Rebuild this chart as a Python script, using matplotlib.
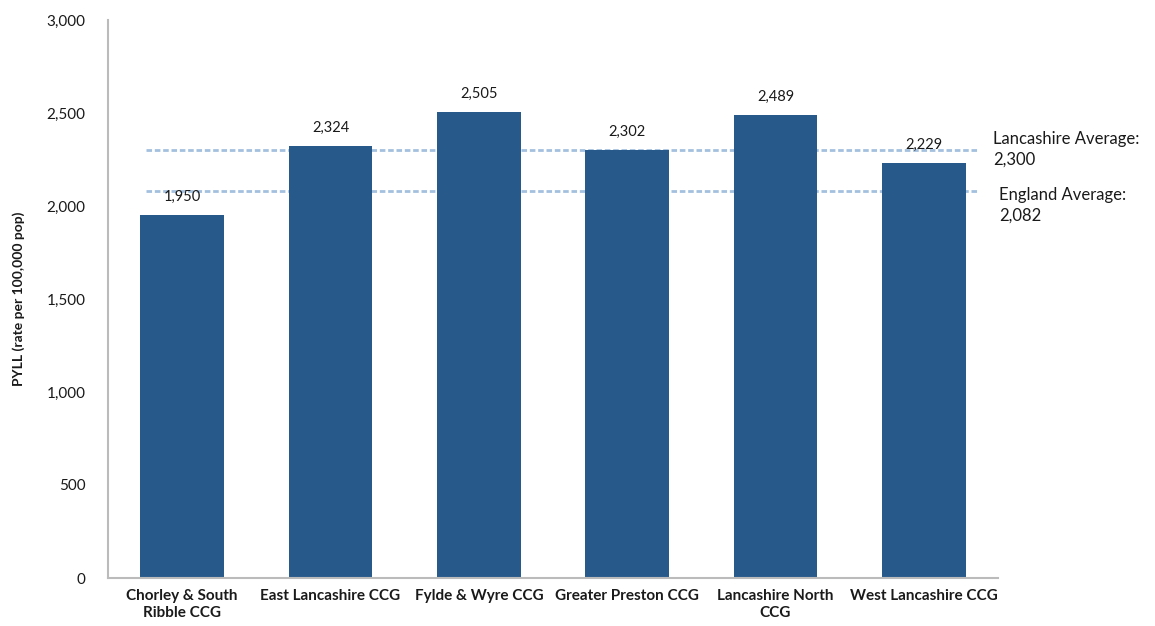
import matplotlib
matplotlib.use("Agg")
import matplotlib.pyplot as plt
from matplotlib.ticker import FuncFormatter

categories = ["Chorley & South\nRibble CCG", "East Lancashire CCG", "Fylde & Wyre CCG",
              "Greater Preston CCG", "Lancashire North\nCCG", "West Lancashire CCG"]
values = [1950, 2324, 2505, 2302, 2489, 2229]
lancashire_avg = 2300
england_avg = 2082
yticks = [0, 500, 1000, 1500, 2000, 2500, 3000]

plt.rcParams['font.family'] = ['Lato', 'DejaVu Sans']

fig = plt.figure(figsize=(11.55, 6.26), dpi=100)
ax = fig.add_axes([108/1155, 48/626, 890/1155, 558/626])

bar_color = "#275A8B"
x = list(range(len(categories)))
ax.bar(x, values, width=0.565, color=bar_color, zorder=2)
for xi, v in zip(x, values):
    ax.text(xi, v + 60, f"{v:,}", ha="center", va="bottom", fontsize=10.5, color="#1a1a1a", zorder=3)

line_color = "#A3C0DE"
ax.hlines([lancashire_avg, england_avg], -0.245, 5.37, colors=line_color,
          linestyles=(0, (2.0, 1.0)), linewidth=2.0, zorder=1)

ax.set_xlim(-0.5, 5.5)
ax.set_ylim(0, 3000)
ax.set_yticks(yticks)
ax.yaxis.set_major_formatter(FuncFormatter(lambda v, p: f"{int(v):,}"))
ax.set_xticks(x)
ax.set_xticklabels(categories, fontsize=11, fontweight="bold", color="#1a1a1a", linespacing=1.3)
ax.tick_params(axis="y", length=0, pad=16, labelsize=11, labelcolor="#1a1a1a")
ax.tick_params(axis="x", length=0, pad=8)

for s in ["top", "right"]:
    ax.spines[s].set_visible(False)
for s in ["left", "bottom"]:
    ax.spines[s].set_color("#BBBBBB")
    ax.spines[s].set_linewidth(1.5)

ax.set_ylabel("PYLL (rate per 100,000 pop)", fontsize=10, fontweight="bold", color="#1a1a1a")
ax.yaxis.set_label_coords(-83/890, 0.5)

fig.text(993/1155, 1 - 149/626, "Lancashire Average:\n2,300", fontsize=12, color="#1a1a1a",
         ha="left", va="center", linespacing=1.35)
fig.text(999/1155, 1 - 205/626, "England Average:\n2,082", fontsize=12, color="#1a1a1a",
         ha="left", va="center", linespacing=1.35)

fig.savefig("out.png", dpi=100)
